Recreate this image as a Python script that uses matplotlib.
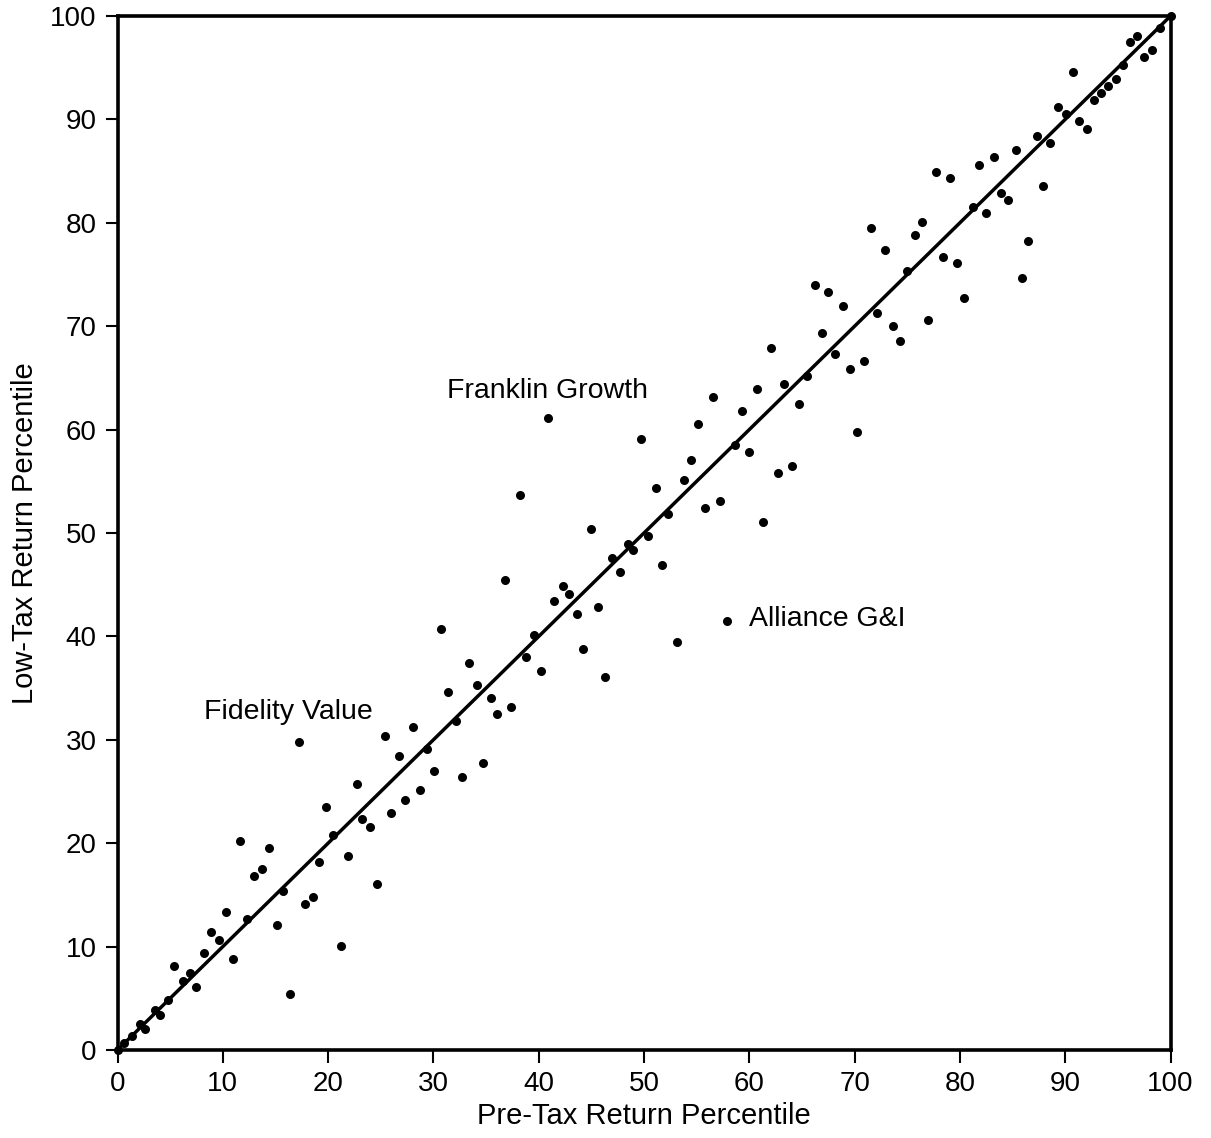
import matplotlib
matplotlib.use('Agg')
import matplotlib.pyplot as plt

# pre-tax vs low-tax return percentiles
pre_tax = [0.0, 0.6, 1.4, 2.1, 2.6, 3.6, 4.0, 4.8, 5.4, 6.2, 6.9, 7.5, 8.2, 8.9, 9.6,
           10.3, 11.0, 11.6, 12.3, 13.0, 13.7, 14.4, 15.1, 15.7, 16.4, 17.8, 18.6,
           19.1, 19.8, 20.5, 21.2, 21.9, 23.2, 24.0, 24.6, 26.0, 27.3, 17.2, 22.7,
           25.4, 26.7, 28.1, 28.7, 29.4, 30.1, 30.7, 31.4, 32.1, 32.7, 33.4, 34.1,
           34.7, 35.5, 36.0, 37.4, 38.8, 39.6, 40.2, 41.5, 43.6, 44.2, 36.8, 38.2,
           40.9, 42.3, 42.9, 45.0, 45.6, 46.3, 47.0, 47.7, 48.5, 49.0, 49.7, 50.4,
           51.1, 51.7, 52.3, 53.1, 53.8, 54.5, 55.1, 55.8, 56.6, 57.2, 57.9, 58.6,
           59.3, 60.0, 60.7, 61.3, 62.7, 63.3, 64.1, 64.7, 62.1, 65.5, 66.2, 66.9,
           67.5, 68.1, 68.9, 69.6, 70.2, 70.9, 71.6, 72.1, 72.9, 73.6, 74.3, 75.0,
           75.7, 76.4, 77.0, 78.4, 79.7, 80.4, 81.2, 82.5, 77.7, 79.1, 81.8, 83.2,
           83.9, 84.6, 85.3, 85.9, 86.5, 87.3, 87.9, 88.6, 89.3, 90.1, 90.7, 91.3,
           92.1, 92.7, 93.4, 94.1, 94.8, 95.5, 96.2, 96.8, 97.5, 98.2, 99.0, 100.0]
low_tax = [0.0, 0.7, 1.4, 2.5, 2.0, 3.9, 3.4, 4.8, 8.1, 6.7, 7.4, 6.1, 9.4, 11.4, 10.6,
           13.3, 8.8, 20.2, 12.7, 16.8, 17.5, 19.5, 12.1, 15.4, 5.4, 14.1, 14.8,
           18.2, 23.5, 20.8, 10.1, 18.8, 22.3, 21.6, 16.1, 22.9, 24.2, 29.8, 25.7,
           30.4, 28.4, 31.2, 25.1, 29.1, 27.0, 40.7, 34.6, 31.8, 26.4, 37.4, 35.3,
           27.8, 34.0, 32.5, 33.2, 38.0, 40.1, 36.7, 43.4, 42.2, 38.8, 45.5, 53.7,
           61.1, 44.9, 44.1, 50.4, 42.8, 36.1, 47.6, 46.2, 48.9, 48.4, 59.1, 49.7,
           54.4, 46.9, 51.8, 39.5, 55.1, 57.1, 60.5, 52.4, 63.2, 53.1, 41.5, 58.5,
           61.8, 57.8, 63.9, 51.1, 55.8, 64.4, 56.5, 62.5, 67.9, 65.2, 74.0, 69.3,
           73.3, 67.3, 72.0, 65.9, 59.8, 66.6, 79.5, 71.3, 77.4, 70.0, 68.6, 75.3,
           78.8, 80.1, 70.6, 76.7, 76.1, 72.7, 81.5, 80.9, 84.9, 84.3, 85.6, 86.4,
           82.9, 82.2, 87.0, 74.7, 78.2, 88.4, 83.6, 87.7, 91.2, 90.5, 94.6, 89.8,
           89.1, 91.9, 92.6, 93.2, 93.9, 95.3, 97.5, 98.1, 96.0, 96.7, 98.8, 100.0]

# labelled funds: (name, text position)
fund_names = ['Franklin Growth', 'Fidelity Value', 'Alliance G&I']
fund_text_x = [31.3, 8.2, 60.0]
fund_text_y = [63.7, 32.7, 41.7]

ticks = list(range(0, 101, 10))

plt.rcParams['font.family'] = ['Liberation Sans', 'DejaVu Sans']

fig = plt.figure(figsize=(12.11, 11.38), dpi=100)
ax = fig.add_axes([117.5 / 1211, 1 - 1050 / 1138, 1053 / 1211, (1050 - 16) / 1138])

# 45 degree reference line
ax.plot([0, 100], [0, 100], color='black', lw=2.5, solid_capstyle='butt', zorder=2)
ax.plot(pre_tax, low_tax, 'o', color='black', ms=6.5, mew=0, clip_on=False, zorder=3)

for name, tx, ty in zip(fund_names, fund_text_x, fund_text_y):
    ax.text(tx, ty, name, fontsize=20.5, ha='left', va='center')

ax.set_xlim(0, 100)
ax.set_ylim(0, 100)
ax.set_xticks(ticks)
ax.set_yticks(ticks)
ax.tick_params(direction='out', length=9, width=1.5, labelsize=20, pad=6)
for sp in ax.spines.values():
    sp.set_linewidth(2.6)

ax.set_xlabel('Pre-Tax Return Percentile', fontsize=21, labelpad=4)
ax.set_ylabel('Low-Tax Return Percentile', fontsize=21, labelpad=8)

fig.savefig('out.png', dpi=100)
